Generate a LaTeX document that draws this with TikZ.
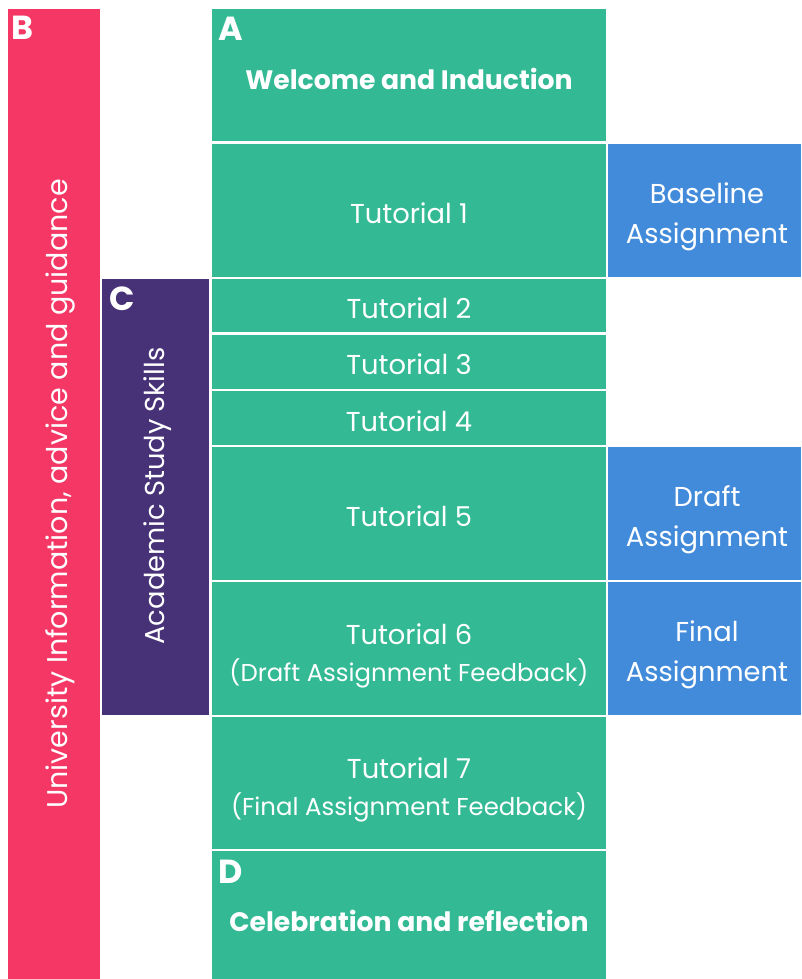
\documentclass[tikz,border=0pt]{standalone}
\usepackage{fontspec}
\setmainfont{Poppins}
\definecolor{grn}{HTML}{33BA95}
\definecolor{pnk}{HTML}{F43765}
\definecolor{prp}{HTML}{473278}
\definecolor{blu}{HTML}{428BDB}
\newcommand{\fbk}[1]{{\fontsize{18.3}{28}\selectfont #1}}
\begin{document}
\begin{tikzpicture}[x=0.75pt,y=-0.75pt,
  txt/.style={text=white,font=\fontsize{20.5}{28}\selectfont,align=center,inner sep=0pt},
  asg/.style={text=white,font=\fontsize{20.5}{30}\selectfont,align=center,inner sep=0pt},
  head/.style={text=white,font=\bfseries\fontsize{20}{24}\selectfont,inner sep=0pt},
  letter/.style={text=white,font=\bfseries\fontsize{25}{28}\selectfont,inner sep=0pt,anchor=north west}]
\useasboundingbox (0,0) rectangle (801,979);
% B column
\fill[pnk] (8,9) rectangle (100,979);
% C column
\fill[prp] (102,279) rectangle (209,715);
% green column
\fill[grn] (212,9) rectangle (606,141);
\fill[grn] (212,144) rectangle (606,277);
\fill[grn] (212,279) rectangle (606,332);
\fill[grn] (212,335) rectangle (606,389);
\fill[grn] (212,391) rectangle (606,445);
\fill[grn] (212,447) rectangle (606,580);
\fill[grn] (212,582) rectangle (606,715);
\fill[grn] (212,717) rectangle (606,849);
\fill[grn] (212,851) rectangle (606,979);
% blue
\fill[blu] (608,144) rectangle (801,277);
\fill[blu] (608,447) rectangle (801,580);
\fill[blu] (608,582) rectangle (801,715);
% letters
\node[letter] (lB) at (11,16) {B};
\node[letter] (lA) at (218,17) {A};
\node[letter] (lC) at (109,287) {C};
\node[letter] (lD) at (218,860) {D};
% headings
\node[head] (wel) at (409,79) {Welcome and Induction};
\node[head] (cel) at (409,921) {Celebration and reflection};
% tutorials
\node[txt] (t1) at (409,213) {Tutorial 1};
\node[txt] (t2) at (409,308) {Tutorial 2};
\node[txt] (t3) at (409,364) {Tutorial 3};
\node[txt] (t4) at (409,421) {Tutorial 4};
\node[txt] (t5) at (409,516) {Tutorial 5};
\node[txt] (t6) at (409,656) {Tutorial 6\\\fbk{(Draft Assignment Feedback)}};
\node[txt] (t7) at (409,790) {Tutorial 7\\\fbk{(Final Assignment Feedback)}};
% assignments
\node[asg] (ba) at (707,217) {Baseline\\Assignment};
\node[asg] (da) at (707,520) {Draft\\Assignment};
\node[asg] (fa) at (707,655) {Final\\Assignment};
% vertical
\node[txt,rotate=90,font=\fontsize{21.4}{28}\selectfont] (uni) at (60,494) {University Information, advice and guidance};
\node[txt,rotate=90] (acs) at (158,496) {Academic Study Skills};
\end{tikzpicture}
\end{document}
